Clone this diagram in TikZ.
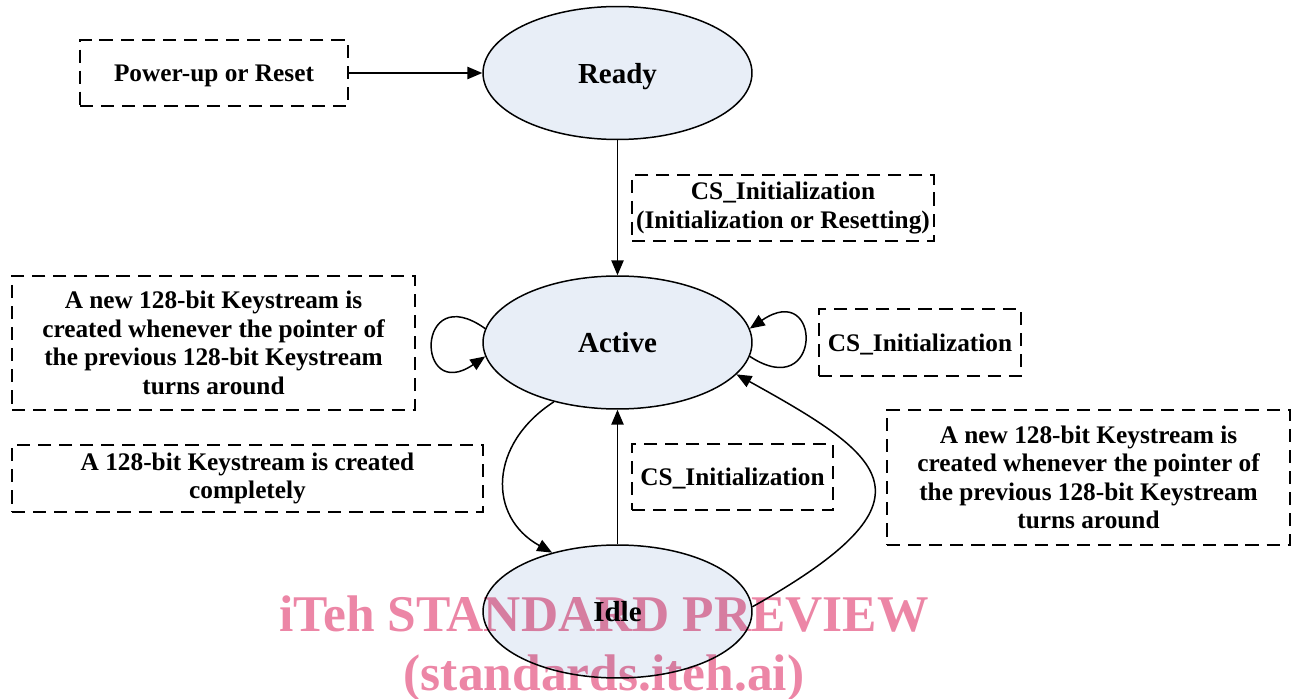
\documentclass[tikz,border=0pt]{standalone}
\usepackage{fontspec}
\setmainfont{Liberation Serif}
\usetikzlibrary{shapes.geometric,arrows.meta}
\definecolor{statefill}{HTML}{E8EEF7}
\definecolor{wmpink}{RGB}{236,134,166}
\begin{document}
\begin{tikzpicture}
[x=0.02cm, y=-0.02cm,
 state/.style={ellipse, draw, line width=0.85pt, fill=statefill, inner sep=0pt, text depth=0pt,
   minimum width=5.38cm, minimum height=2.66cm, font=\fontsize{16.5}{18}\selectfont\bfseries},
 note/.style={draw, line width=1.1pt, dash pattern=on 7.5pt off 4.5pt, align=center, inner sep=0pt,
   font=\fontsize{14.4}{16.2}\selectfont\bfseries},
 oneline/.style={note, text depth=0pt},
 arr/.style={line width=0.85pt, -{Triangle[length=8.5pt,width=7pt]}},
 watermark/.style={text=wmpink, anchor=base, font=\fontsize{29.3}{30}\selectfont\bfseries}]
\useasboundingbox (0,0) rectangle (1298,699);
\node (Ready) at (617.5,73) [state] {Ready};
\node (Active) at (617.5,342.5) [state] {Active};
\node (Idle) at (617.5,611.5) [state] {Idle};

\node (PowerUp) at (214,73) [oneline, minimum width=5.36cm, minimum height=1.32cm] {Power-up or Reset};
\node (InitReset) at (783,208) [note, minimum width=6.04cm, minimum height=1.32cm]
  {CS\_Initialization\\(Initialization or Resetting)};
\node (KeyLeft) at (213.5,343) [note, minimum width=8.06cm, minimum height=2.68cm]
  {A new 128-bit Keystream is\\created whenever the pointer of\\the previous 128-bit Keystream\\turns around};
\node (InitRight) at (920,342.5) [oneline, minimum width=4.04cm, minimum height=1.34cm] {CS\_Initialization};
\node (Complete) at (247.5,478.5) [note, minimum width=9.42cm, minimum height=1.34cm]
  {A 128-bit Keystream is created\\completely};
\node (InitMid) at (732.5,477) [oneline, minimum width=4.02cm, minimum height=1.32cm] {CS\_Initialization};
\node (KeyRight) at (1088.5,477.5) [note, minimum width=8.06cm, minimum height=2.70cm]
  {A new 128-bit Keystream is\\created whenever the pointer of\\the previous 128-bit Keystream\\turns around};

\draw[arr] (PowerUp) -- (Ready);
\draw[arr] (Ready) -- (Active);
\draw[arr] (Idle) -- (Active);
\draw[arr] (Active.174) .. controls +(-70,-50) and +(-70,48) .. (Active.186);
\draw[arr] (Active.354) .. controls +(73,48) and +(73,-50) .. (Active.6);
\draw[arr] (Active.223) .. controls +(-65,42) and +(-65,-36) .. (Idle.138);
\draw[arr] (Idle.2) .. controls +(192,-108) and +(150,83) .. (Active.345);

\begin{scope}[blend mode=multiply]
\node (MarkTop) at (604,631) [watermark] {iTeh STANDARD PREVIEW};
\node (MarkBottom) at (604,690) [watermark] {(standards.iteh.ai)};
\end{scope}
\end{tikzpicture}
\end{document}
